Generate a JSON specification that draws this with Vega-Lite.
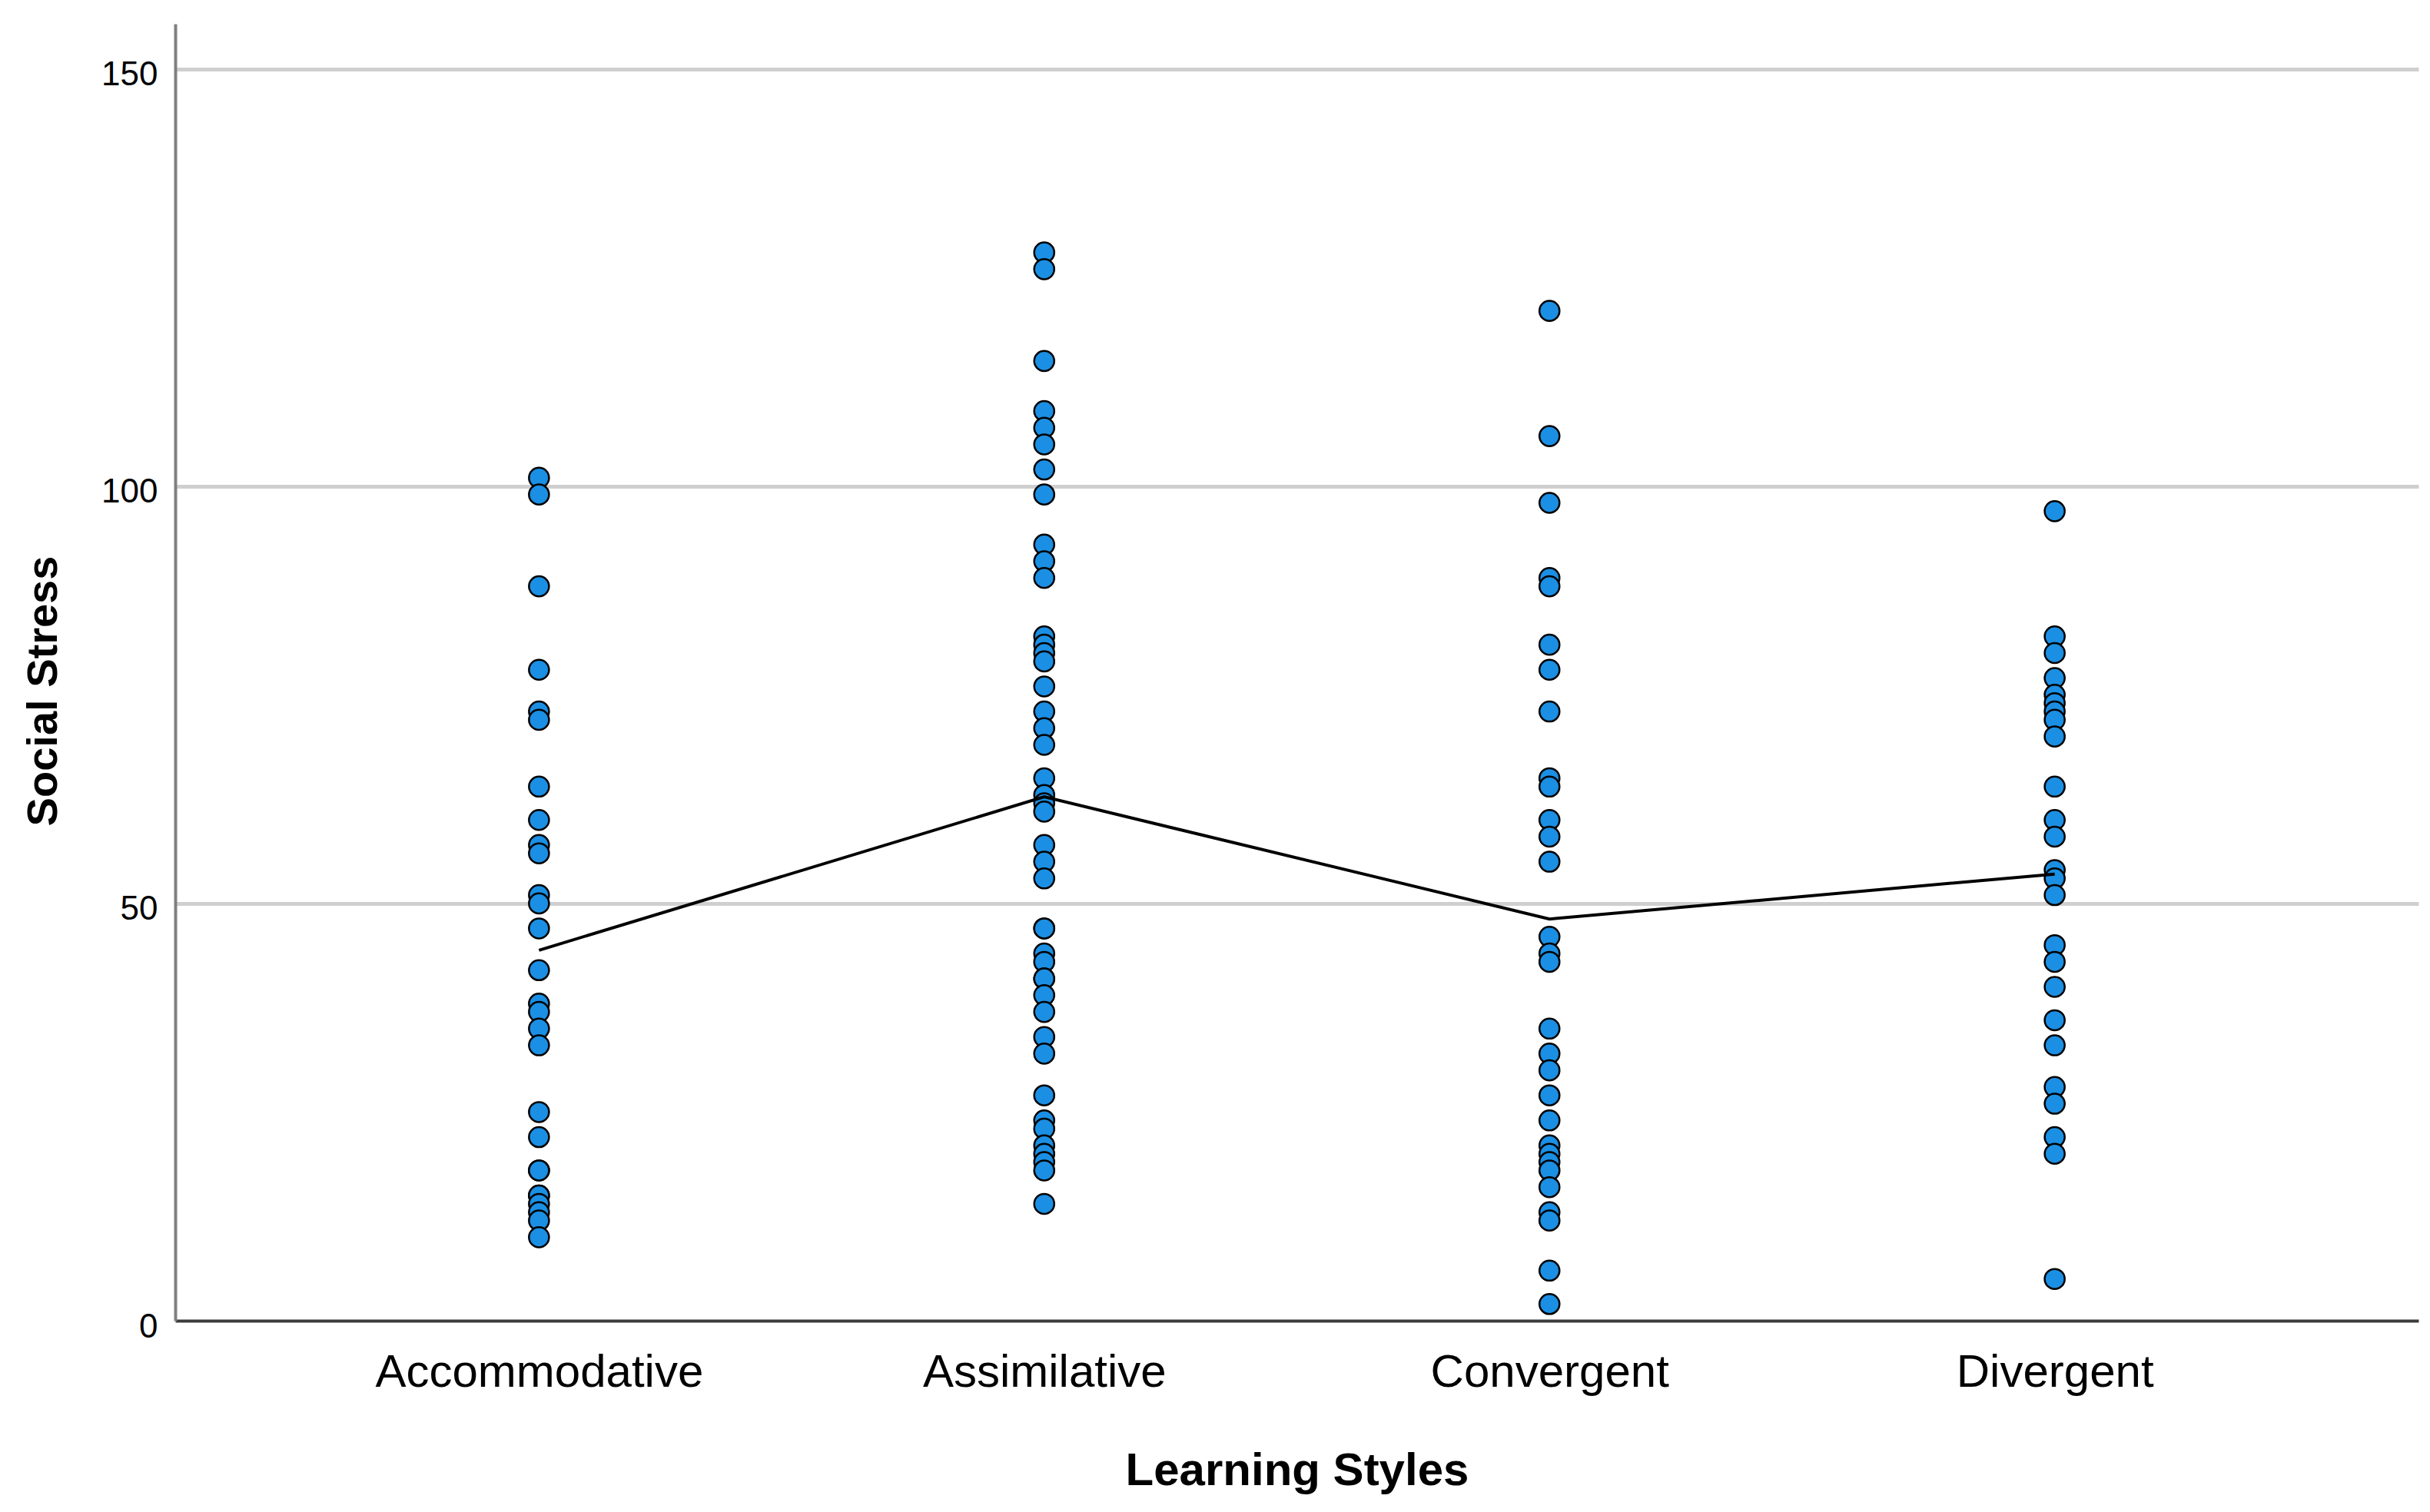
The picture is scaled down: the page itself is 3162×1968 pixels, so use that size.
{
  "$schema": "https://vega.github.io/schema/vega-lite/v6.json",
  "width": 2919,
  "height": 1688,
  "autosize": {"type": "none"},
  "padding": {"left": 228, "top": 31, "right": 15, "bottom": 249},
  "background": "white",
  "config": {"view": {"stroke": null}, "font": "Liberation Sans"},
  "datasets": {
    "pts": [
      {"style": "Accommodative", "stress": 101}, {"style": "Accommodative", "stress": 99}, {"style": "Accommodative", "stress": 88}, {"style": "Accommodative", "stress": 78}, {"style": "Accommodative", "stress": 73}, {"style": "Accommodative", "stress": 72}, {"style": "Accommodative", "stress": 64}, {"style": "Accommodative", "stress": 60}, {"style": "Accommodative", "stress": 57}, {"style": "Accommodative", "stress": 56}, {"style": "Accommodative", "stress": 51}, {"style": "Accommodative", "stress": 50}, {"style": "Accommodative", "stress": 47}, {"style": "Accommodative", "stress": 42}, {"style": "Accommodative", "stress": 38}, {"style": "Accommodative", "stress": 37}, {"style": "Accommodative", "stress": 35}, {"style": "Accommodative", "stress": 33}, {"style": "Accommodative", "stress": 25}, {"style": "Accommodative", "stress": 22}, {"style": "Accommodative", "stress": 18}, {"style": "Accommodative", "stress": 18}, {"style": "Accommodative", "stress": 15}, {"style": "Accommodative", "stress": 15}, {"style": "Accommodative", "stress": 14}, {"style": "Accommodative", "stress": 13}, {"style": "Accommodative", "stress": 12}, {"style": "Accommodative", "stress": 10},
      {"style": "Assimilative", "stress": 128}, {"style": "Assimilative", "stress": 126}, {"style": "Assimilative", "stress": 115}, {"style": "Assimilative", "stress": 109}, {"style": "Assimilative", "stress": 107}, {"style": "Assimilative", "stress": 105}, {"style": "Assimilative", "stress": 102}, {"style": "Assimilative", "stress": 99}, {"style": "Assimilative", "stress": 93}, {"style": "Assimilative", "stress": 91}, {"style": "Assimilative", "stress": 89}, {"style": "Assimilative", "stress": 82}, {"style": "Assimilative", "stress": 81}, {"style": "Assimilative", "stress": 80}, {"style": "Assimilative", "stress": 79}, {"style": "Assimilative", "stress": 76}, {"style": "Assimilative", "stress": 73}, {"style": "Assimilative", "stress": 71}, {"style": "Assimilative", "stress": 69}, {"style": "Assimilative", "stress": 65}, {"style": "Assimilative", "stress": 63}, {"style": "Assimilative", "stress": 62}, {"style": "Assimilative", "stress": 61}, {"style": "Assimilative", "stress": 57}, {"style": "Assimilative", "stress": 55}, {"style": "Assimilative", "stress": 53}, {"style": "Assimilative", "stress": 47}, {"style": "Assimilative", "stress": 47}, {"style": "Assimilative", "stress": 44}, {"style": "Assimilative", "stress": 43}, {"style": "Assimilative", "stress": 41}, {"style": "Assimilative", "stress": 41}, {"style": "Assimilative", "stress": 39}, {"style": "Assimilative", "stress": 37}, {"style": "Assimilative", "stress": 34}, {"style": "Assimilative", "stress": 32}, {"style": "Assimilative", "stress": 27}, {"style": "Assimilative", "stress": 24}, {"style": "Assimilative", "stress": 23}, {"style": "Assimilative", "stress": 21}, {"style": "Assimilative", "stress": 20}, {"style": "Assimilative", "stress": 19}, {"style": "Assimilative", "stress": 18}, {"style": "Assimilative", "stress": 14},
      {"style": "Convergent", "stress": 121}, {"style": "Convergent", "stress": 106}, {"style": "Convergent", "stress": 98}, {"style": "Convergent", "stress": 89}, {"style": "Convergent", "stress": 88}, {"style": "Convergent", "stress": 81}, {"style": "Convergent", "stress": 78}, {"style": "Convergent", "stress": 73}, {"style": "Convergent", "stress": 65}, {"style": "Convergent", "stress": 64}, {"style": "Convergent", "stress": 60}, {"style": "Convergent", "stress": 58}, {"style": "Convergent", "stress": 55}, {"style": "Convergent", "stress": 46}, {"style": "Convergent", "stress": 44}, {"style": "Convergent", "stress": 43}, {"style": "Convergent", "stress": 35}, {"style": "Convergent", "stress": 32}, {"style": "Convergent", "stress": 30}, {"style": "Convergent", "stress": 27}, {"style": "Convergent", "stress": 24}, {"style": "Convergent", "stress": 21}, {"style": "Convergent", "stress": 20}, {"style": "Convergent", "stress": 19}, {"style": "Convergent", "stress": 18}, {"style": "Convergent", "stress": 16}, {"style": "Convergent", "stress": 13}, {"style": "Convergent", "stress": 12}, {"style": "Convergent", "stress": 6}, {"style": "Convergent", "stress": 2},
      {"style": "Divergent", "stress": 97}, {"style": "Divergent", "stress": 82}, {"style": "Divergent", "stress": 80}, {"style": "Divergent", "stress": 77}, {"style": "Divergent", "stress": 75}, {"style": "Divergent", "stress": 74}, {"style": "Divergent", "stress": 73}, {"style": "Divergent", "stress": 72}, {"style": "Divergent", "stress": 70}, {"style": "Divergent", "stress": 64}, {"style": "Divergent", "stress": 60}, {"style": "Divergent", "stress": 58}, {"style": "Divergent", "stress": 54}, {"style": "Divergent", "stress": 53}, {"style": "Divergent", "stress": 51}, {"style": "Divergent", "stress": 45}, {"style": "Divergent", "stress": 43}, {"style": "Divergent", "stress": 40}, {"style": "Divergent", "stress": 36}, {"style": "Divergent", "stress": 33}, {"style": "Divergent", "stress": 28}, {"style": "Divergent", "stress": 26}, {"style": "Divergent", "stress": 22}, {"style": "Divergent", "stress": 20}, {"style": "Divergent", "stress": 5}
    ]
  },
  "data": {"name": "pts"},
  "encoding": {
    "x": {
      "field": "style",
      "type": "nominal",
      "sort": ["Accommodative", "Assimilative", "Convergent", "Divergent"],
      "scale": {"type": "point", "padding": 0.72},
      "title": "Learning Styles",
      "axis": {
        "domain": true,
        "domainColor": "#3c3c3c",
        "domainWidth": 4,
        "ticks": false,
        "tickSize": 0,
        "grid": false,
        "labelAngle": 0,
        "labelLimit": 0,
        "labelFont": "Liberation Sans",
        "labelFontSize": 60,
        "labelColor": "black",
        "labelBaseline": "alphabetic",
        "labelPadding": 85,
        "titleFont": "Liberation Sans",
        "titleFontSize": 60,
        "titleFontWeight": "bold",
        "titleColor": "black",
        "titleBaseline": "alphabetic",
        "titleY": 213
      }
    },
    "y": {
      "field": "stress",
      "type": "quantitative",
      "scale": {"domain": [0, 155.4], "nice": false, "zero": true},
      "title": "Social Stress",
      "axis": {
        "values": [0, 50, 100, 150],
        "domain": true,
        "domainColor": "#808080",
        "domainWidth": 4,
        "ticks": false,
        "tickSize": 0,
        "grid": true,
        "gridColor": {"condition": {"test": "datum.value === 0", "value": "transparent"}, "value": "#cfcfcf"},
        "gridWidth": 5,
        "labelFlush": false,
        "labelFont": "Liberation Sans",
        "labelFontSize": 44,
        "labelColor": "black",
        "labelPadding": 23,
        "labelOffset": 8,
        "titleFont": "Liberation Sans",
        "titleFontSize": 56,
        "titleFontWeight": "bold",
        "titleColor": "black",
        "titleAngle": -90,
        "titleAlign": "center",
        "titleBaseline": "middle",
        "titleX": -172,
        "titleY": 868
      }
    }
  },
  "layer": [
    {
      "mark": {"type": "point", "shape": "circle", "filled": true, "fill": "#1b8fe3", "stroke": "black", "strokeWidth": 2.5, "size": 680, "opacity": 1, "fillOpacity": 1, "strokeOpacity": 1}
    },
    {
      "transform": [{"aggregate": [{"op": "mean", "field": "stress", "as": "stress"}], "groupby": ["style"]}],
      "mark": {"type": "line", "color": "black", "strokeWidth": 4}
    }
  ]
}
